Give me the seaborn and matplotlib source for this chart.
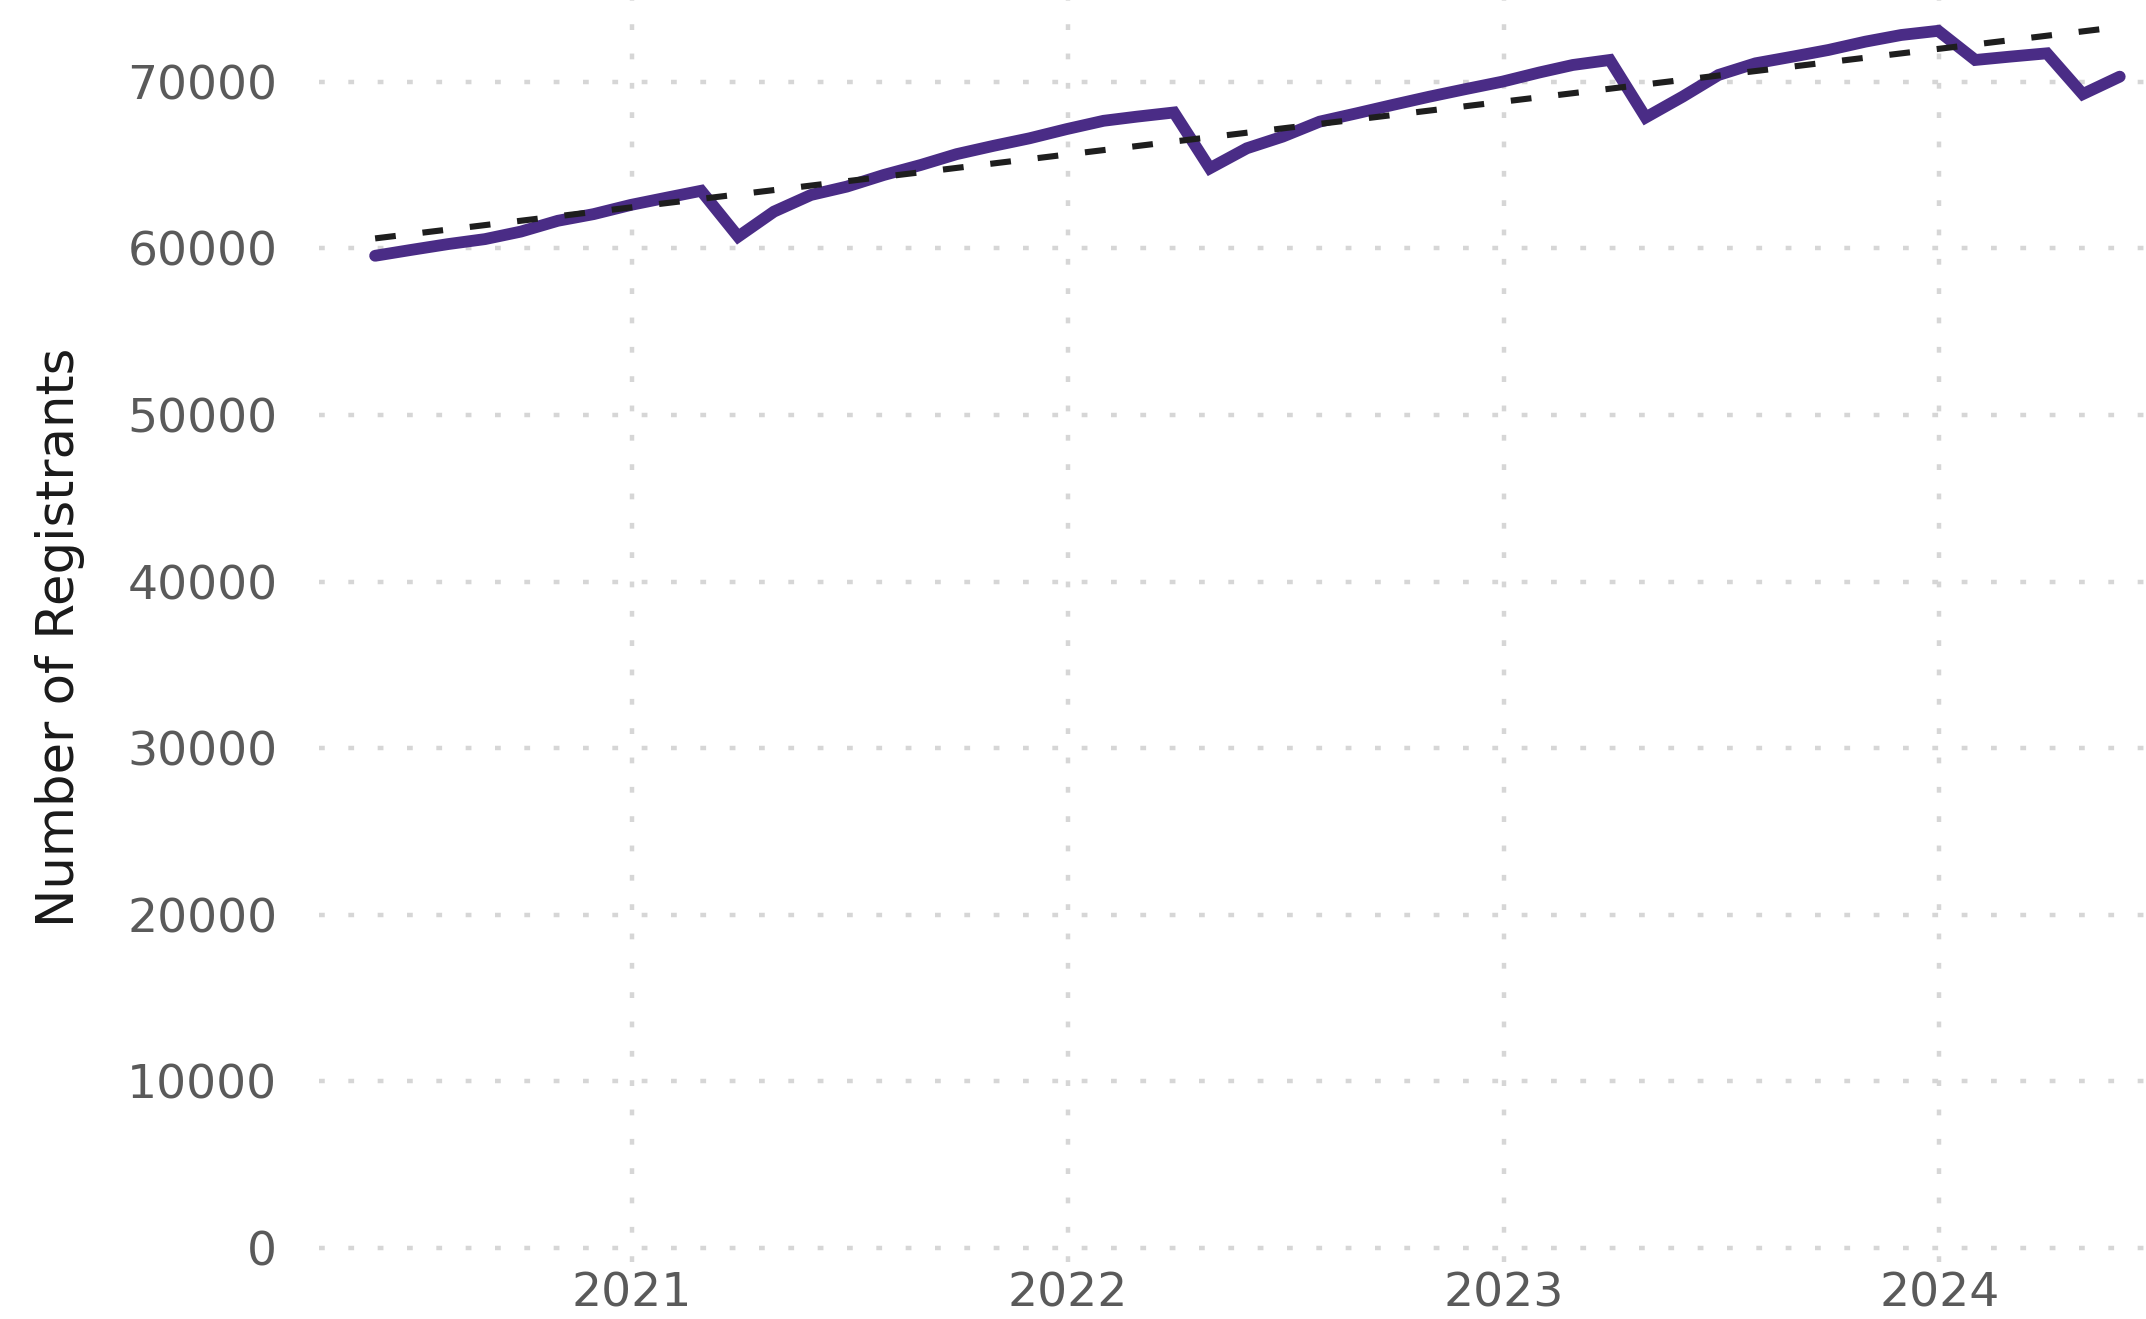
import pandas as pd
import numpy as np
import matplotlib
matplotlib.use('Agg')
import matplotlib.pyplot as plt
import matplotlib.dates as mdates
import seaborn as sns

# Month-end dates, May 2020 to May 2024
months = pd.date_range('2020-05-31', '2024-05-31', freq='ME')

# Number of registrants, one value per month
registrants_2020 = [59550, 59900, 60250, 60550, 61000, 61650, 62050, 62600]
registrants_2021 = [63050, 63450, 60700, 62200, 63200, 63700, 64400, 65000,
                    65650, 66150, 66600, 67150]
registrants_2022 = [67650, 67900, 68150, 64800, 66000, 66700, 67600, 68100,
                    68600, 69100, 69550, 70000]
registrants_2023 = [70550, 71000, 71300, 67850, 69100, 70400, 71100, 71500,
                    71900, 72400, 72800, 73050]
registrants_2024 = [71300, 71500, 71700, 69250, 70300]

y_ticks = [0, 10000, 20000, 30000, 40000, 50000, 60000, 70000]
year_ticks = ['2021-01-01', '2022-01-01', '2023-01-01', '2024-01-01']
year_labels = ['2021', '2022', '2023', '2024']

values = registrants_2020 + registrants_2021 + registrants_2022 + registrants_2023 + registrants_2024
df = pd.DataFrame({'date': mdates.date2num(months), 'registrants': values})

sns.set_theme(style='white')
plt.rcParams['font.family'] = ['DejaVu Sans']

fig = plt.figure(figsize=(21.46, 13.19), dpi=100)
ax = fig.add_axes([319 / 2146, 0.0432, 1 - 319 / 2146, 0.9568])

sns.lineplot(data=df, x='date', y='registrants', ax=ax, color='#4a2c86',
             linewidth=8.5, solid_joinstyle='miter', zorder=3)
sns.regplot(data=df, x='date', y='registrants', ax=ax, scatter=False, ci=None,
            line_kws=dict(color='#1e1e1e', linewidth=4.4, linestyle=(0, (3.4, 4.4)), zorder=4))

ax.set_xlim(mdates.date2num(pd.Timestamp('2020-04-14')), mdates.date2num(pd.Timestamp('2024-06-22')))
ax.set_ylim(-840, 74900)

ax.set_xticks(mdates.date2num(pd.to_datetime(year_ticks)))
ax.set_xticklabels(year_labels)
ax.set_yticks(y_ticks)
ax.set_yticklabels([str(v) for v in y_ticks])

ax.grid(True, color='#d6d6d6', linewidth=3.2, linestyle=(0, (1.3, 5.3)))
ax.set_axisbelow(True)
for s in ax.spines.values():
    s.set_visible(False)

ax.tick_params(axis='both', length=0, labelsize=34, labelcolor='#5a5a5a')
ax.tick_params(axis='y', pad=30)
ax.tick_params(axis='x', pad=7)
ax.set_xlabel('')
ax.set_ylabel('Number of Registrants', fontsize=37, color='#1a1a1a')
ax.yaxis.set_label_coords(-0.128, 0.495)

fig.savefig('out.png', dpi=100)
